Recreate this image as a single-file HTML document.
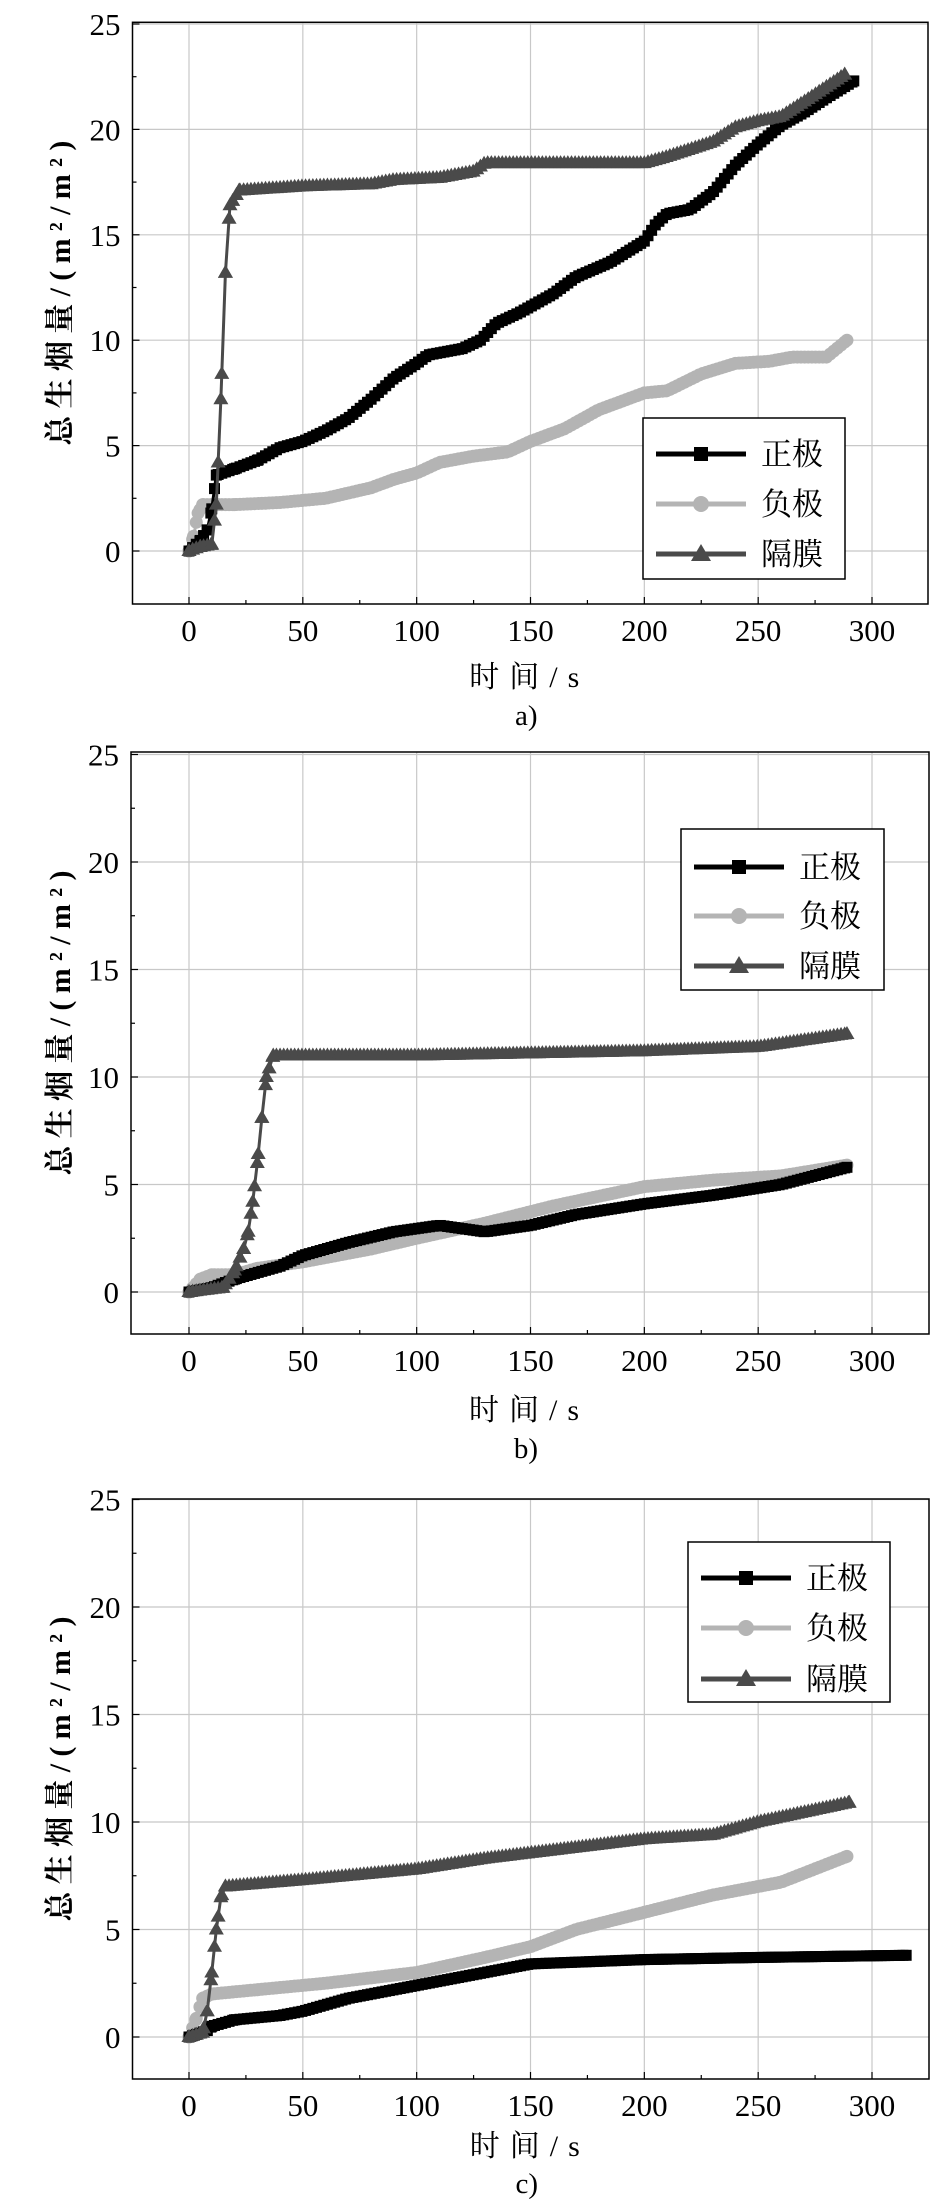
<!DOCTYPE html>
<html><head><meta charset="utf-8">
<style>html,body{margin:0;padding:0;background:#fff}svg{display:block}</style>
</head><body>
<svg id="s" xmlns="http://www.w3.org/2000/svg" width="931" height="2199" viewBox="0 0 931 2199"></svg>
<script>
const NS="http://www.w3.org/2000/svg";
const svg=document.getElementById('s');
function el(t,a,txt){const e=document.createElementNS(NS,t);for(const k in a)e.setAttribute(k,a[k]);if(txt!==undefined)e.textContent=txt;svg.appendChild(e);return e;}
const FONT='"Liberation Serif","Noto Serif CJK SC",serif';
const COL={p:'#000',n:'#b4b4b4',s:'#4a4a4a'};
function interp(d,t){for(let i=1;i<d.length;i++){if(t<=d[i][0]){const a=d[i-1],b=d[i];return a[1]+(b[1]-a[1])*(t-a[0])/(b[0]-a[0]);}}return d[d.length-1][1];}
function marker(type,x,y){
 if(type==='p')el('rect',{x:x-5.5,y:y-5.5,width:11,height:11,fill:COL.p});
 else if(type==='n')el('circle',{cx:x,cy:y,r:6.5,fill:COL.n});
 else el('polygon',{points:`${x},${y-8} ${x-7.5},${y+5} ${x+7.5},${y+5}`,fill:COL.s});
}
function chart(c){
 const X=t=>c.x0+t*(c.x300-c.x0)/300, Y=v=>c.y0-v*c.u;
 for(let t=0;t<=300;t+=50)el('line',{x1:X(t),y1:c.top,x2:X(t),y2:c.bot,stroke:'#c8c8c8','stroke-width':1.2});
 for(let v=0;v<=25;v+=5)el('line',{x1:c.left,y1:Y(v),x2:c.right,y2:Y(v),stroke:'#c8c8c8','stroke-width':1.2});
 el('rect',{x:c.left,y:c.top,width:c.right-c.left,height:c.bot-c.top,fill:'none',stroke:'#000','stroke-width':1.5});
 for(let t=0;t<=300;t+=25){el('line',{x1:X(t),y1:c.bot,x2:X(t),y2:c.bot-(t%50?4:7),stroke:'#000','stroke-width':1.2});}
 for(let v=0;v<=25;v+=2.5){el('line',{x1:c.left,y1:Y(v),x2:c.left+(v%5?4:7),y2:Y(v),stroke:'#000','stroke-width':1.2});}
 for(let t=0;t<=300;t+=50)el('text',{x:X(t),y:c.bot+37,'font-family':FONT,'font-size':31,'text-anchor':'middle'},String(t));
 for(let v=0;v<=25;v+=5)el('text',{x:c.left-12,y:Y(v)+11,'font-family':FONT,'font-size':31,'text-anchor':'end'},String(v));
 el('text',{x:(c.left+c.right)/2-6,y:c.xl,'font-family':FONT,'font-size':30,'text-anchor':'middle','textLength':110,'lengthAdjust':'spacing'},'时间/s');
 el('text',{x:(c.left+c.right)/2-4,y:c.cap,'font-family':FONT,'font-size':29,'text-anchor':'middle'},c.lab);
 const yc=(c.top+c.bot)/2-20;
 el('text',{x:0,y:0,'font-family':FONT,'font-size':30,'font-weight':'bold','text-anchor':'middle','textLength':305,'lengthAdjust':'spacing',transform:`translate(70,${yc}) rotate(-90)`},'总生烟量/(m²/m²)');
 for(const k of ['n','p','s']){
  const d=c.d[k];
  el('polyline',{points:d.map(p=>X(p[0])+','+Y(p[1])).join(' '),fill:'none',stroke:COL[k],'stroke-width':3});
  const end=d[d.length-1][0];
  for(let t=0;t<=end;t+=1.6){marker(k,X(t),Y(interp(d,t)));}
  for(const p of d){ if(p[0]<40) marker(k,X(p[0]),Y(p[1])); }
  marker(k,X(end),Y(d[d.length-1][1]));
 }
 const L=c.leg;
 el('rect',{x:L.x1,y:L.y1,width:L.x2-L.x1,height:L.y2-L.y1,fill:'#fff',stroke:'#000','stroke-width':1.5});
 const names={p:'正极',n:'负极',s:'隔膜'};
 ['p','n','s'].forEach((k,i)=>{
  const y=L.ys[i];
  el('line',{x1:L.x1+13,y1:y,x2:L.x1+103,y2:y,stroke:COL[k],'stroke-width':5});
  if(k==='p')el('rect',{x:L.x1+51,y:y-7,width:14,height:14,fill:COL.p});
  else if(k==='n')el('circle',{cx:L.x1+58,cy:y,r:8,fill:COL.n});
  else el('polygon',{points:`${L.x1+58},${y-10} ${L.x1+48},${y+7} ${L.x1+68},${y+7}`,fill:COL.s});
  el('text',{x:L.x1+118,y:y+11,'font-family':FONT,'font-size':31},names[k]);
 });
}
chart({left:132.5,right:928,top:22.3,bot:604,x0:189,x300:872,y0:551,u:21.08,xl:687,cap:725,lab:'a)',
 leg:{x1:643,x2:845,y1:418,y2:579,ys:[454,504,554]},
 d:{p:[[0,0],[5,0.5],[8,1],[10,2],[12,3.6],[20,3.9],[30,4.3],[40,4.9],[50,5.2],[60,5.7],[70,6.3],[80,7.2],[90,8.2],[100,8.9],[105,9.3],[120,9.6],[128,10.0],[135,10.8],[145,11.3],[160,12.2],[170,13.0],[185,13.7],[200,14.7],[205,15.5],[210,16.0],[220,16.2],[230,17.0],[240,18.3],[250,19.3],[260,20.2],[270,20.8],[280,21.5],[292,22.3]],
 n:[[0,0],[2,0.7],[4,1.8],[6,2.2],[20,2.2],[40,2.3],[60,2.5],[80,3.0],[90,3.4],[100,3.7],[110,4.2],[125,4.5],[140,4.7],[150,5.2],[165,5.8],[180,6.7],[200,7.5],[210,7.6],[225,8.4],[240,8.9],[255,9.0],[265,9.2],[280,9.2],[289,10]],
 s:[[0,0],[5,0.2],[10,0.3],[12,2.2],[14,7.2],[16,13.2],[18,16.4],[22,17.1],[50,17.3],[80,17.4],[90,17.6],[110,17.7],[125,18.0],[130,18.4],[200,18.4],[210,18.7],[230,19.4],[240,20.1],[250,20.4],[260,20.6],[270,21.3],[288,22.6]]}});
chart({left:131,right:929,top:752,bot:1334,x0:189,x300:872,y0:1292,u:21.5,xl:1420,cap:1458,lab:'b)',
 leg:{x1:681,x2:884,y1:829,y2:990,ys:[867,916,966]},
 d:{p:[[0,0],[10,0.2],[20,0.6],[40,1.2],[50,1.7],[70,2.3],[90,2.8],[110,3.1],[130,2.8],[150,3.1],[170,3.6],[200,4.1],[230,4.5],[260,5.0],[289,5.8]],
 n:[[0,0],[5,0.6],[10,0.8],[20,0.8],[30,1.1],[50,1.4],[80,2.0],[100,2.5],[130,3.2],[160,4.0],[200,4.9],[230,5.2],[260,5.4],[289,5.9]],
 s:[[0,0],[15,0.2],[20,1],[24,2.0],[26,2.8],[28,4.2],[30,6.0],[32,8.1],[34,10.0],[37,11.0],[100,11.0],[200,11.2],[250,11.4],[289,12.0]]}});
chart({left:132.5,right:929,top:1499,bot:2079,x0:189,x300:872,y0:2037,u:21.5,xl:2156,cap:2193,lab:'c)',
 leg:{x1:688,x2:890,y1:1542,y2:1702,ys:[1578,1628,1679]},
 d:{p:[[0,0],[8,0.3],[10,0.5],[20,0.8],[40,1.0],[50,1.2],[60,1.5],[70,1.8],[90,2.2],[110,2.6],[130,3.0],[150,3.4],[200,3.6],[250,3.7],[315,3.8]],
 n:[[0,0],[3,0.8],[6,1.8],[10,2.0],[30,2.2],[60,2.5],[100,3.0],[130,3.7],[150,4.2],[170,5.0],[200,5.8],[230,6.6],[260,7.2],[289,8.4]],
 s:[[0,0],[6,0.2],[8,1.2],[10,3.0],[12,5.0],[14,6.5],[16,7.0],[50,7.3],[100,7.8],[130,8.3],[200,9.2],[230,9.4],[250,10.0],[290,10.9]]}});
</script>
</body></html>
